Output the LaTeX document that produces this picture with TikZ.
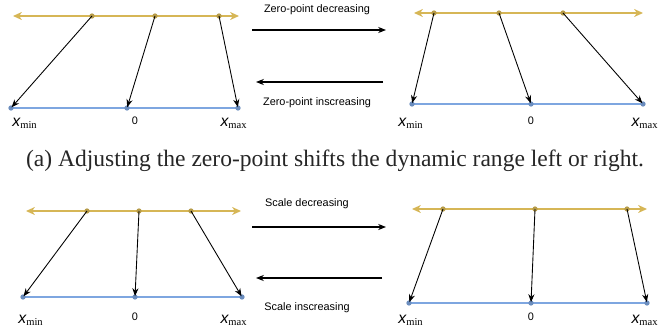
\documentclass[tikz,border=0pt]{standalone}
\usepackage{fontspec}
\setmainfont{Liberation Serif}
\setsansfont{Liberation Sans}
\usetikzlibrary{arrows.meta, positioning}
\definecolor{realYellow}{HTML}{D6B656}
\definecolor{quantBlue}{HTML}{7EA6E0}
\tikzset{
    realLine/.style={draw=realYellow, line width=1pt, {Stealth[length=5pt, width=4.5pt, inset=1.5pt]}-{Stealth[length=5pt, width=4.5pt, inset=1.5pt]}},
    quantLine/.style={draw=quantBlue, line width=1pt},
    realDot/.style={circle, fill=realYellow!85!black, inner sep=0pt, minimum size=3pt},
    quantDot/.style={circle, fill=quantBlue!85!black, inner sep=0pt, minimum size=3pt},
    mapArrow/.style={-{Stealth[length=4.5pt, width=3.5pt]}, black, line width=0.5pt, shorten >=0.5pt},
    shiftArrow/.style={-{Stealth[length=4.5pt, width=3.5pt]}, black, line width=0.6pt},
    stepLabel/.style={font=\sffamily\fontsize{6.2}{7}\selectfont},
    zeroLabel/.style={font=\sffamily\fontsize{6.2}{7}\selectfont},
    endLabel/.style={font=\sffamily\itshape\fontsize{9}{10}\selectfont, inner sep=0pt},
    caption/.style={font=\fontsize{13.4}{15}\selectfont, text=black!85}
}
\newcommand{\xlim}[1]{x$_{\mathrm{#1}}$}

\begin{document}
\begin{tikzpicture}[x=0.02cm, y=-0.02cm]
    \useasboundingbox (0,0) rectangle (671,328);

    % Zero-point, before
    \draw[realLine] (13,16) -- (239,16);
    \draw[quantLine] (11,108) -- (238,108);
    \node[realDot] (zaR1) at (92,16) {};
    \node[realDot] (zaR2) at (155,16) {};
    \node[realDot] (zaR3) at (219,16) {};
    \node[quantDot] (zaQ1) at (11,108) {};
    \node[quantDot] (zaQ2) at (127,108) {};
    \node[quantDot] (zaQ3) at (238,108) {};
    \draw[mapArrow] (zaR1.center) -- (zaQ1.center);
    \draw[mapArrow] (zaR2.center) -- (zaQ2.center);
    \draw[mapArrow] (zaR3.center) -- (zaQ3.center);
    \node[endLabel] (zaMin) at (25,123) {\xlim{min}};
    \node[zeroLabel] (zaZero) at (135,121) {0};
    \node[endLabel] (zaMax) at (234,123) {\xlim{max}};

    % Zero-point, after
    \draw[realLine] (414,13) -- (643,13);
    \draw[quantLine] (412,104) -- (643,104);
    \node[realDot] (zbR1) at (434,13) {};
    \node[realDot] (zbR2) at (499,13) {};
    \node[realDot] (zbR3) at (563,13) {};
    \node[quantDot] (zbQ1) at (412,104) {};
    \node[quantDot] (zbQ2) at (531,104) {};
    \node[quantDot] (zbQ3) at (643,104) {};
    \draw[mapArrow] (zbR1.center) -- (zbQ1.center);
    \draw[mapArrow] (zbR2.center) -- (zbQ2.center);
    \draw[mapArrow] (zbR3.center) -- (zbQ3.center);
    \node[endLabel] (zbMin) at (411,123) {\xlim{min}};
    \node[zeroLabel] (zbZero) at (531,121) {0};
    \node[endLabel] (zbMax) at (645,123) {\xlim{max}};

    % Zero-point shifts
    \coordinate (zsA) at (252,30);
    \coordinate (zsB) at (386,30);
    \coordinate (zsC) at (383,82);
    \coordinate (zsD) at (256,82);
    \draw[shiftArrow] (zsA) -- (zsB);
    \draw[shiftArrow] (zsC) -- (zsD);
    \node[stepLabel] (zsDec) at (317,10) {Zero-point decreasing};
    \node[stepLabel] (zsInc) at (317,103) {Zero-point inscreasing};

    \node[caption] (capA) at (335,161) {(a) Adjusting the zero-point shifts the dynamic range left or right.};

    % Scale, before
    \draw[realLine] (26,211) -- (241,211);
    \draw[quantLine] (23,297) -- (242,297);
    \node[realDot] (saR1) at (87,211) {};
    \node[realDot] (saR2) at (139,211) {};
    \node[realDot] (saR3) at (191,211) {};
    \node[quantDot] (saQ1) at (23,297) {};
    \node[quantDot] (saQ2) at (135,297) {};
    \node[quantDot] (saQ3) at (242,297) {};
    \draw[mapArrow] (saR1.center) -- (saQ1.center);
    \draw[mapArrow] (saR2.center) -- (saQ2.center);
    \draw[mapArrow] (saR3.center) -- (saQ3.center);
    \node[endLabel] (saMin) at (31,320) {\xlim{min}};
    \node[zeroLabel] (saZero) at (135,317) {0};
    \node[endLabel] (saMax) at (234,320) {\xlim{max}};

    % Scale, after
    \draw[realLine] (412,209) -- (647,209);
    \draw[quantLine] (409,303) -- (647,303);
    \node[realDot] (sbR1) at (443,209) {};
    \node[realDot] (sbR2) at (535,209) {};
    \node[realDot] (sbR3) at (627,209) {};
    \node[quantDot] (sbQ1) at (409,303) {};
    \node[quantDot] (sbQ2) at (531,303) {};
    \node[quantDot] (sbQ3) at (647,303) {};
    \draw[mapArrow] (sbR1.center) -- (sbQ1.center);
    \draw[mapArrow] (sbR2.center) -- (sbQ2.center);
    \draw[mapArrow] (sbR3.center) -- (sbQ3.center);
    \node[endLabel] (sbMin) at (411,320) {\xlim{min}};
    \node[zeroLabel] (sbZero) at (531,317) {0};
    \node[endLabel] (sbMax) at (645,320) {\xlim{max}};

    % Scale shifts
    \coordinate (ssA) at (252,227);
    \coordinate (ssB) at (386,227);
    \coordinate (ssC) at (382,278);
    \coordinate (ssD) at (256,278);
    \draw[shiftArrow] (ssA) -- (ssB);
    \draw[shiftArrow] (ssC) -- (ssD);
    \node[stepLabel] (ssDec) at (307,204) {Scale decreasing};
    \node[stepLabel] (ssInc) at (307,308) {Scale inscreasing};
\end{tikzpicture}
\end{document}
